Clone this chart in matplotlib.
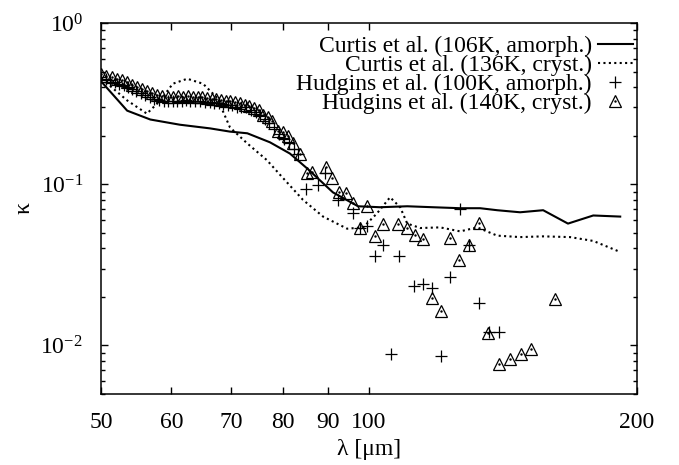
import matplotlib
matplotlib.use('Agg')
import matplotlib.pyplot as plt
from matplotlib.ticker import FixedLocator, FixedFormatter, LogLocator, NullFormatter

plt.rcParams['font.family'] = ['Liberation Serif', 'DejaVu Serif']
plt.rcParams['mathtext.fontset'] = 'stix'

# Curtis et al. (106K, amorph.)
curtis_amo_lam = [50.1, 53.5, 56.8, 61.3, 66.3, 69.8, 73.0, 77.4, 81.5, 85.4,
                  91.1, 97.2, 102.9, 110.4, 118.0, 126.6, 133.3, 139.3, 147.8,
                  156.9, 167.3, 178.6, 191.5]
curtis_amo_k = [0.43, 0.286, 0.252, 0.234, 0.222, 0.212, 0.207, 0.182, 0.155,
                0.124, 0.089, 0.073, 0.072, 0.073, 0.072, 0.071, 0.071, 0.069,
                0.067, 0.069, 0.057, 0.064, 0.063]

# Curtis et al. (136K, cryst.)
curtis_cry_lam = [50.1, 53.5, 56.3, 58.3, 60.2, 62.5, 65.1, 67.5, 69.8, 73.0,
                  76.8, 79.5, 84.3, 88.8, 94.5, 98.5, 102.1, 105.6, 108.4,
                  110.4, 114.2, 120.2, 126.6, 132.3, 139.3, 147.8, 156.9,
                  168.2, 178.6, 191.5]
curtis_cry_k = [0.45, 0.331, 0.274, 0.331, 0.42, 0.451, 0.42, 0.344, 0.225,
                0.179, 0.141, 0.114, 0.080, 0.063, 0.053, 0.054, 0.066, 0.083,
                0.072, 0.057, 0.0535, 0.054, 0.051, 0.054, 0.048, 0.047,
                0.0475, 0.047, 0.0445, 0.038]

# Hudgins et al. (100K, amorph.)
hud_amo_lam = [50.0, 50.6, 51.2, 51.8, 52.4, 53.0, 53.6, 54.2, 54.8, 55.4,
               56.0, 56.7, 57.4, 58.1, 58.8, 59.5, 60.2, 60.9, 61.6, 62.3,
               63.0, 63.8, 64.6, 65.4, 66.2, 67.0, 67.8, 68.6, 69.4, 70.2,
               71.0, 71.9, 72.8, 73.7, 74.6, 75.5, 76.4, 77.3, 78.3, 79.3,
               80.3, 81.3, 82.3, 83.3, 85.0, 87.7, 89.3, 92.3, 96.0, 97.7,
               99.5, 101.6, 103.7, 105.9, 108.1, 112.4, 115.0, 117.7, 120.5,
               123.3, 126.6, 129.6, 133.0, 136.4, 140.0]
hud_amo_k = [0.46, 0.45, 0.44, 0.43, 0.42, 0.41, 0.40, 0.39, 0.38, 0.37,
             0.36, 0.35, 0.34, 0.335, 0.33, 0.33, 0.33, 0.33, 0.33, 0.335,
             0.33, 0.33, 0.33, 0.325, 0.325, 0.32, 0.32, 0.315, 0.31, 0.31,
             0.30, 0.30, 0.30, 0.29, 0.28, 0.27, 0.255, 0.24, 0.22, 0.205,
             0.19, 0.18, 0.165, 0.153, 0.093, 0.099, 0.117, 0.080, 0.066, 0.0535,
             0.055, 0.036, 0.042, 0.0088, 0.036, 0.0235, 0.0241, 0.0228, 0.0086,
             0.0267, 0.070, 0.042, 0.0184, 0.0122, 0.0122]

# Hudgins et al. (140K, cryst.)
hud_cry_lam = [50.0, 50.7, 51.4, 52.1, 52.8, 53.5, 54.2, 54.9, 55.6, 56.3,
               57.0, 57.8, 58.6, 59.4, 60.2, 61.0, 61.8, 62.6, 63.4, 64.2,
               65.0, 65.8, 66.6, 67.4, 68.2, 69.0, 69.8, 70.7, 71.6, 72.5,
               73.4, 74.3, 75.2, 76.1, 77.0, 77.8, 79.0, 80.1, 81.1, 82.2,
               83.7, 85.2, 86.3, 89.5, 90.8, 92.5, 94.2, 96.0, 97.7, 99.5,
               101.6, 103.7, 107.8, 110.4, 112.6, 115.0, 117.7, 120.5, 123.3,
               126.3, 129.6, 133.0, 136.1, 140.0, 144.1, 148.3, 152.1, 161.8]
hud_cry_k = [0.48, 0.47, 0.46, 0.45, 0.44, 0.43, 0.41, 0.40, 0.39, 0.38,
             0.37, 0.36, 0.355, 0.35, 0.35, 0.355, 0.35, 0.355, 0.35, 0.35,
             0.35, 0.345, 0.34, 0.34, 0.335, 0.33, 0.33, 0.325, 0.32, 0.31,
             0.305, 0.295, 0.29, 0.27, 0.26, 0.245, 0.215, 0.21, 0.20, 0.18,
             0.155, 0.117, 0.119, 0.127, 0.109, 0.089, 0.088, 0.077, 0.0535, 0.073,
             0.0478, 0.0566, 0.0566, 0.0535, 0.0484, 0.0458, 0.0198, 0.0164, 0.0464,
             0.034, 0.042, 0.0574, 0.0120, 0.0077, 0.0083, 0.0089, 0.0095, 0.0195]

x_ticks = [50, 60, 70, 80, 90, 100, 200]
x_labels = ['50', '60', '70', '80', '90', '100', '200']

fig = plt.figure(figsize=(6.79, 4.65), dpi=100)
ax = fig.add_axes([101 / 679, 71 / 465, 536 / 679, 371 / 465])

# lines
l1, = ax.plot(curtis_amo_lam, curtis_amo_k, color='black', lw=1.5,
              label='Curtis et al. (106K, amorph.)')
l2, = ax.plot(curtis_cry_lam, curtis_cry_k, color='black', lw=1.5,
              linestyle=(0, (1, 1.6)), label='Curtis et al. (136K, cryst.)')

# points (gnuplot style, with a dot in the triangle)
p1, = ax.plot(hud_amo_lam, hud_amo_k, '+', color='black', ms=8.5, mew=0.9,
              label='Hudgins et al. (100K, amorph.)')
p2, = ax.plot(hud_cry_lam, hud_cry_k, '^', color='black', mfc='none', ms=8.5,
              mew=0.9, label='Hudgins et al. (140K, cryst.)')
p2d, = ax.plot(hud_cry_lam, hud_cry_k, '.', color='black', ms=1.5)

ax.set_xscale('log')
ax.set_yscale('log')
ax.set_xlim(50, 200)
ax.set_ylim(0.005, 1)

ax.xaxis.set_major_locator(FixedLocator(x_ticks))
ax.xaxis.set_major_formatter(FixedFormatter(x_labels))
ax.xaxis.set_minor_locator(FixedLocator([]))
ax.xaxis.set_minor_formatter(NullFormatter())
ax.yaxis.set_major_locator(LogLocator(base=10, numticks=10))
ax.yaxis.set_minor_locator(LogLocator(base=10, subs=range(2, 10), numticks=10))
ax.yaxis.set_minor_formatter(NullFormatter())

ax.tick_params(which='both', direction='in', top=True, right=True, labelsize=17)
ax.tick_params(which='major', length=5, width=1)
ax.tick_params(which='minor', length=3, width=1)
ax.tick_params(axis='x', pad=13)
ax.tick_params(axis='y', pad=13)
for s in ax.spines.values():
    s.set_linewidth(1.1)

ax.set_xlabel('λ [μm]', fontsize=17, labelpad=4)
ax.set_ylabel('κ', fontsize=17, labelpad=4)

# markerfirst=False right-aligns the entries, like gnuplot's key
ax.legend([l1, l2, p1, (p2, p2d)],
          [l1.get_label(), l2.get_label(), p1.get_label(), p2.get_label()],
          loc='upper right', bbox_to_anchor=(1 - 2 / 536, 1 - 10 / 371),
          frameon=False, markerfirst=False,
          fontsize=17, handlelength=1.48, handletextpad=0.25,
          labelspacing=-0.1, borderaxespad=0, borderpad=0.1)

fig.savefig('out.png', dpi=100)
